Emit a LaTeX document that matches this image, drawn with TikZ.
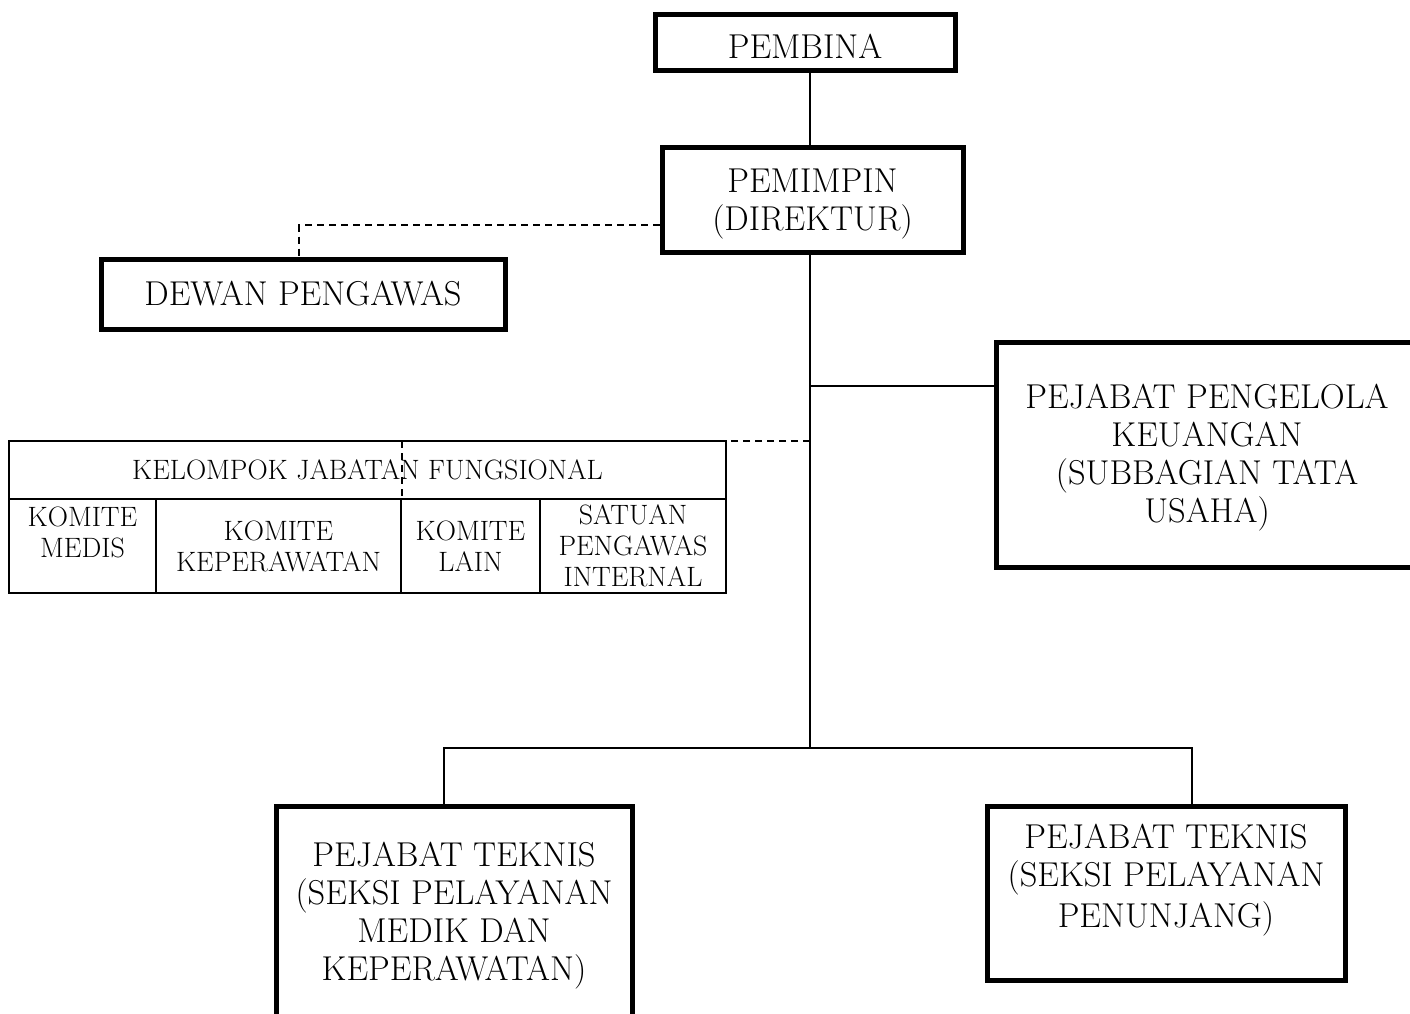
\documentclass[tikz,border=0pt]{standalone}
\begin{document}
\newcommand\mainsz{\fontsize{34.5}{38}\selectfont}
\newcommand\smallsz{\fontsize{28}{31}\selectfont}
\tikzset{
  box/.style={draw, line width=5pt, align=center, inner sep=0pt, font=\mainsz},
  cell/.style={draw, line width=1.8pt, align=center, inner sep=0pt, font=\smallsz},
  txt/.style={align=center, inner sep=0pt},
  conn/.style={line width=1.6pt},
  dconn/.style={line width=1.6pt, dash pattern=on 7pt off 5pt}
}
\begin{tikzpicture}[x=1pt,y=-1pt]
\useasboundingbox (0,0) rectangle (1410,1013);
\fill[white] (0,0) rectangle (1410,1013);
\clip (0,0) rectangle (1410,1013);
% spine coordinates
\coordinate (sp) at (810,0);
\coordinate (jb) at (810,748);
\coordinate (b1) at (444,748);
\coordinate (b2) at (1192,748);
\coordinate (kj) at (810,386);
\coordinate (dw) at (299,225);
\coordinate (kf) at (810,441);
\coordinate (kf2) at (402,441);
% boxes
\node[box, minimum width=300pt, minimum height=56pt] (pembina) at (805,42) {};
\node[txt, font=\mainsz] (pembinat) at (805,46) {PEMBINA};
\node[box, minimum width=301pt, minimum height=105pt] (pemimpin) at (812.5,199.5) {};
\node[txt, font=\mainsz] (pemimpint) at (812.5,204) {PEMIMPIN\\(DIREKTUR)};
\node[box, minimum width=404pt, minimum height=70pt] (dewan) at (303,294) {DEWAN PENGAWAS};
\node[box, minimum width=422pt, minimum height=225pt] (keu) at (1207,454.5) {};
\node[txt, font=\mainsz] (keut) at (1207,458) {PEJABAT PENGELOLA\\KEUANGAN\\(SUBBAGIAN TATA\\USAHA)};
\node[box, minimum width=356pt, minimum height=224pt] (tk1) at (454,918) {};
\node[txt, font=\mainsz] (tk1t) at (454,916) {PEJABAT TEKNIS\\(SEKSI PELAYANAN\\MEDIK DAN\\KEPERAWATAN)};
\node[box, minimum width=358pt, minimum height=174pt] (tk2) at (1166,893) {};
\node[txt, font=\mainsz] (tk2t) at (1166,880) {PEJABAT TEKNIS\\(SEKSI PELAYANAN\\[3pt]PENUNJANG)};
% table
\node[cell, minimum width=717pt, minimum height=58pt] (hdr) at (367.5,470) {KELOMPOK JABATAN FUNGSIONAL};
\node[cell, minimum width=147pt, minimum height=94pt] (c1) at (82.5,546) {};
\node[txt, font=\smallsz] (c1t) at (82.5,532) {KOMITE\\MEDIS};
\node[cell, minimum width=245pt, minimum height=94pt] (c2) at (278.5,546) {KOMITE\\KEPERAWATAN};
\node[cell, minimum width=139pt, minimum height=94pt] (c3) at (470.5,546) {KOMITE\\LAIN};
\node[cell, minimum width=186pt, minimum height=94pt] (c4) at (633,546) {SATUAN\\PENGAWAS\\INTERNAL};
% connectors
\draw[conn] (pembina.south -| sp) -- (pemimpin.north -| sp);
\draw[conn] (pemimpin.south -| sp) -- (jb);
\draw[conn] (kj) -- (kj -| keu.west);
\draw[conn] (b1 |- tk1.north) -- (b1) -- (b2) -- (b2 |- tk2.north);
\draw[dconn] (dw -| pemimpin.west) -- (dw) -- (dw |- dewan.north);
\draw[dconn] (kf) -- (kf2) -- (kf2 |- hdr.south);
\end{tikzpicture}
\end{document}
